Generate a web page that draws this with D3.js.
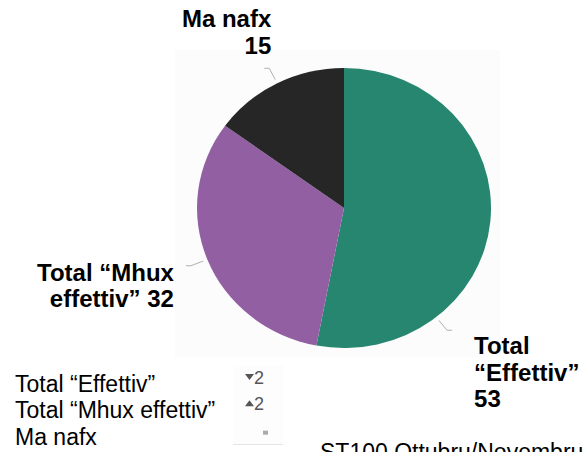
<!DOCTYPE html>
<html>
<head>
  <meta charset="utf-8">
  <script src="https://cdn.jsdelivr.net/npm/d3@7"></script>
  <style>
    body { margin: 0; background: #fff; }
    text { font-family: "Liberation Sans", Arial, sans-serif; }
  </style>
</head>
<body>
  <div id="chart"></div>
</body>
</html>

<script>
  // data
  var categories = ["Total \u201cEffettiv\u201d", "Total \u201cMhux effettiv\u201d", "Ma nafx"];
  var values = [53, 32, 15];
  var colors = ["#26866f", "#9260a2", "#262626"];
  var labelLines = [
    ["Total", "\u201cEffettiv\u201d", "53"],
    ["Total \u201cMhux", "effettiv\u201d 32"],
    ["Ma nafx", "15"]
  ];
  var changeText = ["2", "2", ""];
  var changeDir = ["down", "up", "same"];
  var footer = "ST100 Ottubru/Novembru";

  var width = 585, height = 452;
  var cx = 344, cy = 208, rx = 147, ry = 140;

  var svg = d3.select("#chart").append("svg")
    .attr("width", width)
    .attr("height", height);

  // faint panel behind the pie
  svg.append("rect")
    .attr("x", 175).attr("y", 50)
    .attr("width", 325).attr("height", 307)
    .attr("fill", "#fcfcfc");

  var pie = d3.pie().sort(null).startAngle(0).endAngle(2 * Math.PI);
  var arcs = pie(values);

  var arc = d3.arc().innerRadius(0).outerRadius(rx);

  var g = svg.append("g")
    .attr("transform", "translate(" + cx + "," + cy + ") scale(1," + (ry / rx) + ")");

  g.selectAll("path")
    .data(arcs)
    .enter()
    .append("path")
      .attr("d", arc)
      .attr("fill", function (d, i) { return colors[i]; });

  // leader lines: green label sits lower than its mid angle
  var anchorShift = [0.8, 0, 0];
  function pt(angle, k) {
    return [cx + rx * k * Math.sin(angle), cy - ry * k * Math.cos(angle)];
  }
  var leaderEnds = [];
  arcs.forEach(function (d, i) {
    var a = (d.startAngle + d.endAngle) / 2 + anchorShift[i];
    var p1 = pt(a, 1.03), p2 = pt(a, 1.12);
    var dir = Math.sin(a) >= 0 ? 1 : -1;
    var p3 = [p2[0] + dir * 5, p2[1]];
    leaderEnds.push(p3);
    svg.append("path")
      .attr("d", d3.line()([p1, p2, p3]))
      .attr("fill", "none")
      .attr("stroke", "#b0b0b0")
      .attr("stroke-width", 1);
  });

  // data labels
  var labelLayout = [
    {dx: 22, dy: 24, anchor: "start"},
    {dx: -12, dy: 15, anchor: "end"},
    {dx: 7, dy: -41, anchor: "end"}
  ];
  labelLines.forEach(function (lines, i) {
    var L = labelLayout[i];
    var t = svg.append("text")
      .attr("x", leaderEnds[i][0] + L.dx)
      .attr("y", leaderEnds[i][1] + L.dy)
      .attr("text-anchor", L.anchor)
      .attr("font-size", 24)
      .attr("font-weight", "bold")
      .attr("fill", "#000");
    lines.forEach(function (s, j) {
      t.append("tspan")
        .attr("x", leaderEnds[i][0] + L.dx)
        .attr("dy", j === 0 ? 0 : 26.5)
        .text(s);
    });
  });

  // legend table
  var legendY = d3.scaleBand().domain(categories).range([370, 449]);
  svg.selectAll(".leg")
    .data(categories)
    .enter()
    .append("text")
      .attr("class", "leg")
      .attr("x", 15)
      .attr("y", function (d) { return legendY(d) + 22; })
      .attr("font-size", 23)
      .attr("fill", "#000")
      .text(function (d) { return d; });

  svg.append("rect")
    .attr("x", 233).attr("y", 365)
    .attr("width", 50).attr("height", 79)
    .attr("fill", "#fdfdfd");
  svg.append("line")
    .attr("x1", 233).attr("x2", 283)
    .attr("y1", 444.5).attr("y2", 444.5)
    .attr("stroke", "#e4e4e4");

  categories.forEach(function (c, i) {
    var y0 = legendY(c) + 22 - 15;
    if (changeDir[i] === "down") {
      svg.append("path").attr("d", "M245," + (y0 - 3) + "L254," + (y0 - 3) + "L249.5," + (y0 + 3) + "Z").attr("fill", "#555");
    } else if (changeDir[i] === "up") {
      svg.append("path").attr("d", "M245," + (y0 + 3) + "L254," + (y0 + 3) + "L249.5," + (y0 - 3) + "Z").attr("fill", "#555");
    } else {
      svg.append("rect").attr("x", 263).attr("y", y0 + 1).attr("width", 5).attr("height", 4).attr("fill", "#aaa");
    }
    if (changeText[i]) {
      svg.append("text")
        .attr("x", 254).attr("y", y0 + 7)
        .attr("font-size", 18)
        .attr("fill", "#555")
        .text(changeText[i]);
    }
  });

  svg.append("text")
    .attr("x", 320).attr("y", 460)
    .attr("font-size", 23)
    .attr("fill", "#000")
    .text(footer);
</script>
